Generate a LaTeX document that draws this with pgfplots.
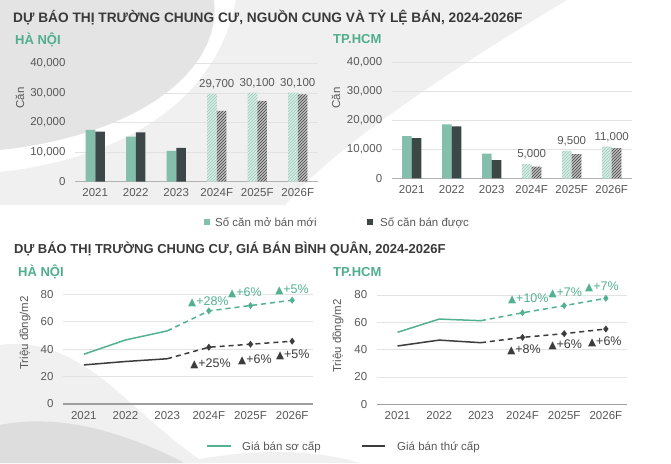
\documentclass[border=0pt]{standalone}
\usepackage{fontspec}
\setmainfont{Liberation Sans}
\newfontfamily\symfont{DejaVu Sans}
\usepackage{pgfplots}
\pgfplotsset{compat=1.18}
\usetikzlibrary{patterns}
\definecolor{mint}{HTML}{84BFAB}
\definecolor{mintlight}{HTML}{D6ECE4}
\definecolor{minthatch}{HTML}{9DCDBC}
\definecolor{darkbar}{HTML}{3B4847}
\definecolor{graybar}{HTML}{BDBDBD}
\definecolor{darkhatch}{HTML}{454545}
\definecolor{titlec}{HTML}{3A3A3A}
\definecolor{greent}{HTML}{4FAE8C}
\definecolor{tickc}{HTML}{595959}
\definecolor{gridc}{HTML}{E3E3E3}
\definecolor{linegreen}{HTML}{52B190}
\definecolor{linedark}{HTML}{3C3C3C}
\definecolor{bgA}{HTML}{E4E4E4}
\definecolor{bgB}{HTML}{F0F0F0}
\definecolor{bgC}{HTML}{DDDDDD}
\newcommand{\fs}[1]{\fontsize{#1}{#1}\selectfont}
\newcommand{\up}{{\symfont\fs{10.5}▲}}
\tikzset{ann/.style={anchor=west, inner sep=0pt, font=\fs{12.5}}}
\pgfplotsset{
  /pgf/number format/1000 sep={,},
  /pgf/number format/assume math mode=true,
  common/.style={
    scale only axis, xmin=-0.5, xmax=5.5,
    xtick={0,...,5}, xticklabels={2021,2022,2023,2024F,2025F,2026F},
    axis x line*=bottom, axis y line*=left,
    y axis line style={draw=none},
    major tick length=0pt,
    ymajorgrids, grid style={gridc, line width=0.8pt},
    tick label style={font=\fs{11.5}, text=tickc},
    yticklabel style={xshift=-6pt},
    xticklabel style={yshift=-3.5pt},
    clip=false,
  },
  barax/.style={common, ymin=0, ymax=40000, ytick={0,10000,...,40000}, scaled y ticks=false,
    x axis line style={draw=gray!60, line width=1.1pt}},
  lineax/.style={common, ymin=0, ymax=80, ytick={0,20,...,80},
    x axis line style={draw=gray!75, line width=1.6pt}},
  mintbar/.style={ybar, bar width=9.7pt, bar shift=-4.85pt, fill=mint, draw=none},
  darkb/.style={ybar, bar width=9.7pt, bar shift=4.85pt, fill=darkbar, draw=none},
  mintf/.style={ybar, bar width=9.7pt, bar shift=-4.85pt, fill=mintlight, draw=none,
    postaction={pattern=north east lines, pattern color=minthatch}},
  darkf/.style={ybar, bar width=9.7pt, bar shift=4.85pt, fill=graybar, draw=none,
    postaction={pattern=north east lines, pattern color=darkhatch}},
  lab/.style={draw=none, mark=none, nodes near coords,
    every node near coord/.append style={font=\fs{11.5}, text=tickc, anchor=south, yshift=1.5pt}},
  gsolid/.style={linegreen, line width=1.5pt},
  dsolid/.style={linedark, line width=1.5pt},
  gdash/.style={linegreen, line width=1.5pt, dash pattern=on 5pt off 4pt, mark=diamond*, mark size=2.3pt, mark options={solid}, mark indices={2,3,4}},
  ddash/.style={linedark, line width=1.5pt, dash pattern=on 5pt off 4pt, mark=diamond*, mark size=2.3pt, mark options={solid}, mark indices={2,3,4}},
}
\begin{document}
\begin{tikzpicture}[x=1pt,y=1pt]
\fill[white] (0,0) rectangle (671,-463);
\path[use as bounding box] (0,0) rectangle (671,-463);
% background decoration
\fill[bgB] (236,0) -- (567,0) .. controls (450,-70) and (330,-150) .. (285,-205) -- (0,-205) -- (0,-172) .. controls (110,-160) and (215,-110) .. (236,0) -- cycle;
\fill[bgA] (0,0) -- (214,0) .. controls (222,-70) and (140,-135) .. (0,-150) -- cycle;
\fill[bgB] (0,-345) .. controls (35,-340) and (70,-352) .. (110,-385) .. controls (140,-410) and (170,-440) .. (205,-463) -- (0,-463) -- cycle;
\fill[bgC] (0,-425) .. controls (50,-415) and (110,-425) .. (185,-463) -- (0,-463) -- cycle;
\fill[bgB] (180,-463) .. controls (230,-452) and (300,-445) .. (360,-463) -- cycle;
% titles
\node[anchor=base west, inner sep=0pt, text=titlec, font=\bfseries\fs{13.7}] at (13,-22) {DỰ BÁO THỊ TRƯỜNG CHUNG CƯ, NGUỒN CUNG VÀ TỶ LỆ BÁN, 2024-2026F};
\node[anchor=base west, inner sep=0pt, text=greent, font=\bfseries\fs{13}] at (15,-44.3) {HÀ NỘI};
\node[anchor=base west, inner sep=0pt, text=greent, font=\bfseries\fs{13}] at (333,-43.3) {TP.HCM};
\node[anchor=base west, inner sep=0pt, text=titlec, font=\bfseries\fs{13}] at (14,-253.3) {DỰ BÁO THỊ TRƯỜNG CHUNG CƯ, GIÁ BÁN BÌNH QUÂN, 2024-2026F};
\node[anchor=base west, inner sep=0pt, text=greent, font=\bfseries\fs{13}] at (18,-276.7) {HÀ NỘI};
\node[anchor=base west, inner sep=0pt, text=greent, font=\bfseries\fs{13}] at (333,-276.7) {TP.HCM};
% y labels
\node[rotate=90, text=tickc, font=\fs{11.5}] at (20,-98) {Căn};
\node[rotate=90, text=tickc, font=\fs{11.5}] at (336,-98) {Căn};
\node[rotate=90, text=tickc, font=\fs{11.5}] at (25,-333) {Triệu đồng/m2};
\node[rotate=90, text=tickc, font=\fs{11.5}] at (338,-336) {Triệu đồng/m2};
% top-left: Ha Noi supply
\begin{axis}[barax, at={(75pt,-181.7pt)}, anchor=south west, width=243pt, height=118.4pt]
\addplot[mintbar] coordinates {(0,17500) (1,15200) (2,10400)};
\addplot[darkb] coordinates {(0,16900) (1,16700) (2,11400)};
\addplot[mintf] coordinates {(3,29700) (4,30100) (5,30100)};
\addplot[darkf] coordinates {(3,23900) (4,27300) (5,29500)};
\addplot[lab] coordinates {(3,29700) (4,30100) (5,30100)};
\end{axis}
% top-right: HCMC supply
\begin{axis}[barax, at={(391.7pt,-178.3pt)}, anchor=south west, width=240pt, height=115.6pt]
\addplot[mintbar] coordinates {(0,14600) (1,18700) (2,8500)};
\addplot[darkb] coordinates {(0,13900) (1,18000) (2,6300)};
\addplot[mintf] coordinates {(3,5000) (4,9500) (5,11000)};
\addplot[darkf] coordinates {(3,4000) (4,8400) (5,10400)};
\addplot[lab] coordinates {(3,5000) (4,9500) (5,11000)};
\end{axis}
% legend top
\fill[mint] (203.7,-218.7) rectangle (209.7,-224.7);
\node[anchor=base west, inner sep=0pt, text=tickc, font=\fs{11.5}] at (215,-226.7) {Số căn mở bán mới};
\fill[darkbar] (367,-218.7) rectangle (373,-224.7);
\node[anchor=base west, inner sep=0pt, text=tickc, font=\fs{11.5}] at (380,-226.7) {Số căn bán được};
% bottom-left: Ha Noi prices
\begin{axis}[lineax, at={(63pt,-404pt)}, anchor=south west, width=250pt, height=109.7pt]
\addplot[gsolid] coordinates {(0,36.3) (1,46.7) (2,53.3)};
\addplot[gdash] coordinates {(2,53.3) (3,67.9) (4,71.8) (5,75.7)};
\addplot[dsolid] coordinates {(0,28.5) (1,31) (2,33)};
\addplot[ddash] coordinates {(2,33) (3,41.4) (4,43.6) (5,45.8)};
\node[ann, text=linegreen] at (axis cs:2.50,74.6) {\up+28\%};
\node[ann, text=linegreen] at (axis cs:3.46,81.2) {\up+6\%};
\node[ann, text=linegreen] at (axis cs:4.59,83.6) {\up+5\%};
\node[ann, text=linedark] at (axis cs:2.55,29) {\up+25\%};
\node[ann, text=linedark] at (axis cs:3.70,32.6) {\up+6\%};
\node[ann, text=linedark] at (axis cs:4.61,35.7) {\up+5\%};
\end{axis}
% bottom-right: HCMC prices
\begin{axis}[lineax, at={(376.7pt,-404.3pt)}, anchor=south west, width=250pt, height=109.3pt]
\addplot[gsolid] coordinates {(0,52.7) (1,62.4) (2,61.2)};
\addplot[gdash] coordinates {(2,61.2) (3,67) (4,72.2) (5,77.6)};
\addplot[dsolid] coordinates {(0,42.7) (1,47) (2,45.1)};
\addplot[ddash] coordinates {(2,45.1) (3,49) (4,51.7) (5,55.1)};
\node[ann, text=linegreen] at (axis cs:2.65,77.1) {\up+10\%};
\node[ann, text=linegreen] at (axis cs:3.62,81.3) {\up+7\%};
\node[ann, text=linegreen] at (axis cs:4.50,86.1) {\up+7\%};
\node[ann, text=linedark] at (axis cs:2.63,39.7) {\up+8\%};
\node[ann, text=linedark] at (axis cs:3.62,43.4) {\up+6\%};
\node[ann, text=linedark] at (axis cs:4.57,45.8) {\up+6\%};
\end{axis}
% legend bottom
\draw[linegreen, line width=1.5pt] (207,-446) -- (231,-446);
\node[anchor=base west, inner sep=0pt, text=tickc, font=\fs{11.5}] at (242,-450) {Giá bán sơ cấp};
\draw[linedark, line width=1.5pt] (362,-446) -- (385,-446);
\node[anchor=base west, inner sep=0pt, text=tickc, font=\fs{11.5}] at (397,-450) {Giá bán thứ cấp};
\end{tikzpicture}
\end{document}
